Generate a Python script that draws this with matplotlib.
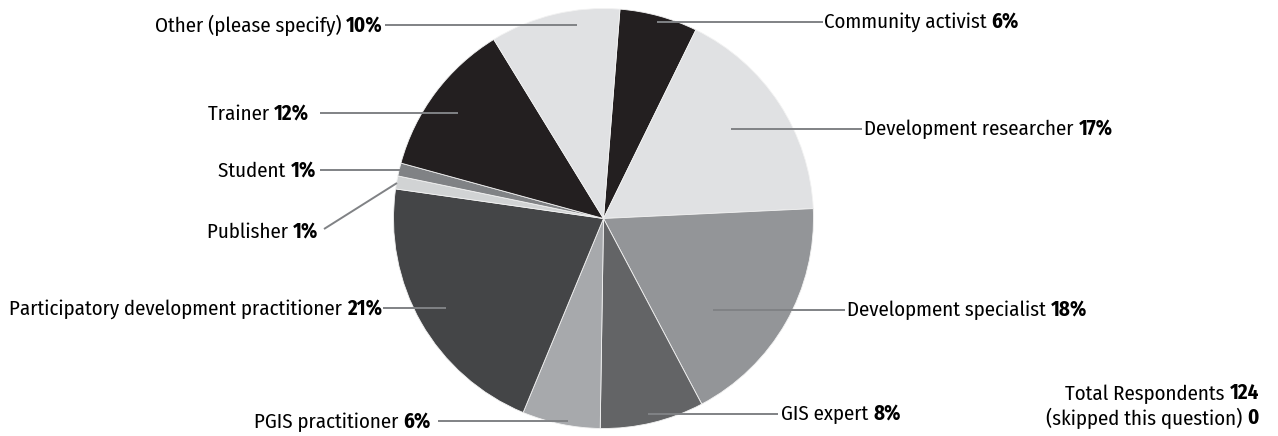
import matplotlib.pyplot as plt

W, H = 1278, 436

labels = ['Community activist', 'Development researcher', 'Development specialist',
          'GIS expert', 'PGIS practitioner', 'Participatory development practitioner',
          'Publisher', 'Student', 'Trainer', 'Other (please specify)']
values = [6, 17, 18, 8, 6, 21, 1, 1, 12, 10]
colors = ['#231f20', '#e0e1e3', '#939598', '#636466', '#a7a9ac', '#444547',
          '#d1d3d4', '#808285', '#231f20', '#e0e1e3']

total_respondents = 124
skipped = 0

# label layout in pixels (y measured from top): text x, text y, align, line start, line end
layout = [
    (824, 22, 'left', (823, 22), (657, 22)),
    (864, 129, 'left', (862, 129), (731, 129)),
    (847, 310, 'left', (845, 310), (713, 310)),
    (781, 414, 'left', (778, 414), (648, 414)),
    (431, 421, 'right', (438, 421), (568, 421)),
    (382, 308, 'right', (383, 308), (446, 308)),
    (318, 231, 'right', (324, 229), (397, 183)),
    (316, 170, 'right', (320, 170), (400, 170)),
    (309, 113, 'right', (320, 113), (458, 113)),
    (383, 25, 'right', (385, 25), (577, 25)),
]

plt.rcParams['font.family'] = ['Fira Sans Condensed', 'Liberation Sans', 'DejaVu Sans']
fs = 15

fig = plt.figure(figsize=(W / 100, H / 100), dpi=100)
ax = fig.add_axes([0, 0, 1, 1])
ax.pie(values, colors=colors, startangle=85.5, counterclock=False,
       center=(603.5, H - 218.5), radius=210,
       wedgeprops=dict(edgecolor='#f2f2f2', linewidth=0.6))
ax.set_xlim(0, W)
ax.set_ylim(0, H)
ax.set_aspect('equal')
ax.axis('off')

for lab, val, (tx, ty, ha, p0, p1) in zip(labels, values, layout):
    ax.plot([p0[0], p1[0]], [H - p0[1], H - p1[1]], color='#808285', lw=1.4,
            solid_capstyle='butt', zorder=3)
    if ha == 'left':
        t = ax.text(tx, H - ty, lab + ' ', ha='left', va='center', fontsize=fs)
        ax.annotate(f'{val}%', xy=(1, 0), xycoords=t, ha='left', va='bottom',
                    fontsize=fs, fontweight='bold')
    else:
        t = ax.text(tx, H - ty, f'{val}%', ha='right', va='center', fontsize=fs,
                    fontweight='bold')
        ax.annotate(lab + ' ', xy=(0, 0), xycoords=t, ha='right', va='bottom',
                    fontsize=fs)

t1 = ax.text(1259, H - 393, f'{total_respondents}', ha='right', va='center',
             fontsize=fs, fontweight='bold')
ax.annotate('Total Respondents ', xy=(0, 0), xycoords=t1, ha='right', va='bottom',
            fontsize=fs)
t2 = ax.text(1259, H - 418, f'{skipped}', ha='right', va='center',
             fontsize=fs, fontweight='bold')
ax.annotate('(skipped this question) ', xy=(0, 0), xycoords=t2, ha='right',
            va='bottom', fontsize=fs)

fig.savefig('out.png', dpi=100)
